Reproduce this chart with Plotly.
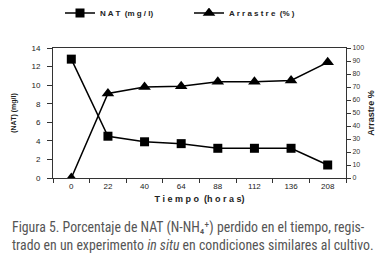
import plotly.graph_objects as go

categories = ["0", "22", "40", "64", "88", "112", "136", "208"]
nat = [12.8, 4.5, 3.9, 3.7, 3.2, 3.2, 3.2, 1.4]
arrastre = [0, 65, 70, 70.5, 74, 74, 75, 89]

L, R, T, B = 45, 45, 40, 84
W, H = 383, 254
pw, ph = W - L - R, H - T - B

def px(x):
    return (x - L) / pw

def py(y):
    return (H - B - y) / ph

fig = go.Figure()
fig.add_trace(go.Scatter(x=categories, y=nat, name="<b>N A T  (m g / l)</b>", mode="lines+markers",
                         line=dict(color="black", width=1.5), legend="legend",
                         marker=dict(symbol="square", size=9, color="black")))
fig.add_trace(go.Scatter(x=categories, y=arrastre, name="<b>A r r a s t r e  (% )</b>", mode="lines+markers",
                         yaxis="y2", line=dict(color="black", width=1.5), legend="legend2",
                         marker=dict(symbol="triangle-up", size=11, color="black")))

legfont = dict(family="Liberation Sans, Arial", size=8, color="#222")
tickfont = dict(family="Liberation Sans, Arial", size=8, color="#222")
capfont = dict(family="Liberation Sans Narrow, Roboto Condensed, Roboto", size=13.8, color="#555")
fig.update_layout(
    width=W, height=H, margin=dict(l=L, r=R, t=T, b=B, autoexpand=False),
    paper_bgcolor="white", plot_bgcolor="white",
    showlegend=True,
    legend=dict(orientation="h", x=px(52), y=py(5), xanchor="left", yanchor="middle",
                font=legfont, itemwidth=30, bgcolor="rgba(0,0,0,0)"),
    legend2=dict(orientation="h", x=px(181), y=py(5), xanchor="left", yanchor="middle",
                 font=legfont, itemwidth=30, bgcolor="rgba(0,0,0,0)"),
    xaxis=dict(type="category", range=[-0.5, 7.5], showgrid=False, showline=True,
               linecolor="#333", linewidth=1, mirror=True, ticks="outside",
               tickson="boundaries", ticklen=4, tickcolor="#333", tickfont=tickfont,
               title=dict(text="<b>T i e m p o  (h o r a s)</b>",
                          font=dict(family="Liberation Sans, Arial", size=9, color="#222"),
                          standoff=6)),
    yaxis=dict(range=[0, 14], dtick=2, showgrid=False, showline=True, linecolor="#333",
               linewidth=1, mirror=True, ticks="outside", ticklen=5, tickcolor="#333",
               tickfont=tickfont, zeroline=False, ticklabelstandoff=5,
               title=dict(text="<b>(NAT) (mg/l)</b>",
                          font=dict(family="Liberation Sans, Arial", size=7, color="#222"),
                          standoff=14)),
    yaxis2=dict(range=[0, 100], dtick=10, overlaying="y", side="right", showgrid=False,
                showline=False, ticks="outside", ticklen=4, tickcolor="#333",
                tickfont=dict(family="Liberation Sans, Arial", size=7, color="#333"),
                zeroline=False,
                title=dict(text="<b>Arrastre %</b>",
                           font=dict(family="Liberation Sans, Arial", size=9, color="#222"),
                           standoff=4)),
    annotations=[
        dict(text="Figura 5. Porcentaje de NAT (N-NH₄⁺) perdido en el tiempo, regis-",
             xref="paper", yref="paper", x=px(2), y=py(219), xanchor="left", yanchor="middle",
             showarrow=False, font=capfont),
        dict(text="trado en un experimento <i>in situ</i> en condiciones similares al cultivo.",
             xref="paper", yref="paper", x=px(2), y=py(237), xanchor="left", yanchor="middle",
             showarrow=False, font=capfont),
    ],
)

fig.write_html("out.html")
